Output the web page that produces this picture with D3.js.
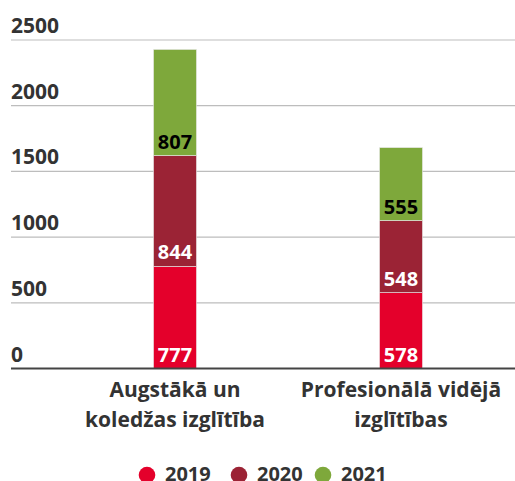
<!DOCTYPE html>
<html><head><meta charset="utf-8">
<script src="https://cdn.jsdelivr.net/npm/d3@7/dist/d3.min.js"></script>
<style>body{margin:0;background:#fff;}svg{display:block;font-family:"Open Sans",sans-serif;}</style>
</head><body>
<svg id="c" width="515" height="481"></svg>
<script>
const categories = [["Augstākā un","koledžas izglītība"],["Profesionālā vidējā","izglītības"]];
const years = ["2019","2020","2021"];
const v2019 = [777, 578];
const v2020 = [844, 548];
const v2021 = [807, 555];
const yTicks = [0,500,1000,1500,2000,2500];
const colors = ["#e4002b","#9b2335","#7ea83b"];
const labelColors = ["#ffffff","#ffffff","#000000"];

const svg = d3.select("#c");
const data = categories.map((c,i)=>({key:i, "2019":v2019[i], "2020":v2020[i], "2021":v2021[i]}));
const stack = d3.stack().keys(years)(data);

const y = d3.scaleLinear().domain([0,2500]).range([368.5,40]);
const x = d3.scaleBand().domain(d3.range(categories.length)).range([62,514]).paddingInner(0.81).paddingOuter(0.405);

// grid
const g = svg.append("g");
g.selectAll("line.grid").data(yTicks.filter(t=>t>0)).join("line")
  .attr("x1",11).attr("x2",515).attr("y1",d=>y(d)).attr("y2",d=>y(d))
  .attr("stroke","#bdbdbd").attr("stroke-width",1.2);
g.selectAll("text.tick").data(yTicks).join("text")
  .attr("x",11).attr("y",d=>y(d)-7)
  .attr("font-size",21).attr("font-weight",700).attr("fill","#333")
  .text(d=>d);

// bars
stack.forEach((s,si)=>{
  svg.append("g").selectAll("rect").data(s).join("rect")
    .attr("x",(d,i)=>x(i)).attr("width",x.bandwidth())
    .attr("y",d=>y(d[1])).attr("height",d=>y(d[0])-y(d[1]))
    .attr("fill",colors[si]).attr("stroke","#e8e8e8").attr("stroke-width",0.6);
});
stack.forEach((s,si)=>{
  svg.append("g").selectAll("text").data(s).join("text")
    .attr("x",(d,i)=>x(i)+x.bandwidth()/2).attr("y",d=>y(d[0])-7)
    .attr("text-anchor","middle").attr("font-size",20).attr("font-weight",700)
    .attr("fill",labelColors[si]).text(d=>d[1]-d[0]);
});

// baseline
svg.append("line").attr("x1",11).attr("x2",515).attr("y1",y(0)).attr("y2",y(0))
  .attr("stroke","#444").attr("stroke-width",2);

// category labels
categories.forEach((c,i)=>{
  const t = svg.append("text").attr("text-anchor","middle").attr("font-size",21)
    .attr("font-weight",700).attr("fill","#333");
  c.forEach((line,li)=>{
    t.append("tspan").attr("x",x(i)+x.bandwidth()/2).attr("y",397+li*30).text(line);
  });
});

// legend
const lx = [147,239,323];
years.forEach((yr,i)=>{
  svg.append("circle").attr("cx",lx[i]).attr("cy",475).attr("r",8.3).attr("fill",colors[i]);
  svg.append("text").attr("x",lx[i]+18).attr("y",480.5).attr("font-size",20)
    .attr("font-weight",700).attr("fill","#333").text(yr);
});
</script>
</body></html>
